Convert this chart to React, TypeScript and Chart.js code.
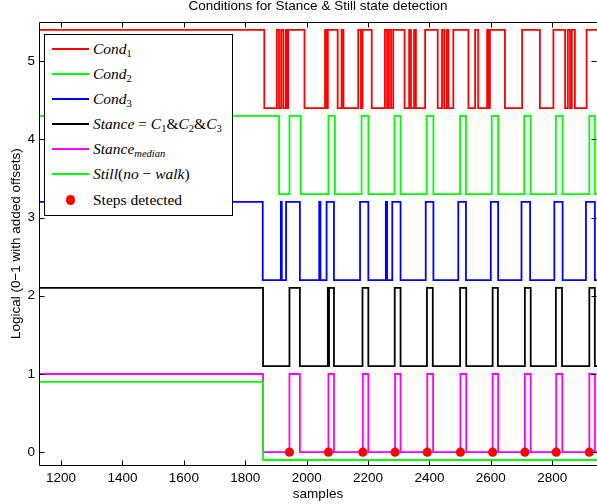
import React, { useEffect, useRef } from "react";
import { Chart, registerables } from "chart.js";

Chart.register(...registerables);

// ---- axis settings ----
const X_MIN = 1128;
const X_MAX = 2946;
const Y_MIN = -0.17;
const Y_MAX = 5.5;
const xTicks = [1200, 1400, 1600, 1800, 2000, 2200, 2400, 2600, 2800];
const yTicks = [0, 1, 2, 3, 4, 5];

const TITLE = "Conditions for Stance & Still state detection";
const X_LABEL = "samples";
const Y_LABEL = "Logical (0\u22121 with added offsets)";

// ---- signals: sample indices where each logical signal toggles ----
const cond1Start = 1;
const cond1Offset = 4.4;
const cond1Edges = [
  1862, 1903, 1910, 1917, 1924, 1932, 1935, 1940, 1993, 2060, 2063, 2069,
  2101, 2114, 2120, 2168, 2177, 2182, 2212, 2255, 2262, 2268, 2275, 2282,
  2319, 2334, 2340, 2350, 2356, 2386, 2427, 2441, 2448, 2456, 2462, 2478,
  2527, 2549, 2559, 2588, 2593, 2597, 2646, 2702, 2760, 2804, 2842, 2851,
  2858, 2864, 2874, 2912,
];

const cond2Start = 1;
const cond2Offset = 3.3;
const cond2Edges = [
  1910, 1944, 1981, 2071, 2092, 2179, 2201, 2286, 2306, 2391, 2413, 2500,
  2519, 2603, 2624, 2709, 2730, 2812, 2834, 2921, 2939,
];

const cond3Start = 1;
const cond3Offset = 2.2;
const cond3Edges = [
  1857, 1916, 1919, 1933, 1978, 2041, 2045, 2065, 2089, 2174, 2201, 2258,
  2262, 2279, 2306, 2388, 2413, 2494, 2519, 2600, 2624, 2700, 2728, 2807,
  2834, 2910, 2939,
];

const stanceStart = 1;
const stanceOffset = 1.1;
const stanceEdges = [
  1858, 1944, 1978, 2069, 2071, 2073, 2089, 2182, 2201, 2287, 2306, 2392,
  2411, 2500, 2520, 2606, 2623, 2711, 2730, 2812, 2832, 2921, 2939,
];

const medianStart = 1;
const medianOffset = 0;
const medianEdges = [
  1858, 1944, 1978, 2071, 2089, 2183, 2201, 2288, 2306, 2393, 2412, 2501,
  2520, 2606, 2624, 2711, 2730, 2813, 2833, 2921, 2939,
];

const stillStart = 1;
const stillOffset = -0.1;
const stillEdges = [1858];

const stepSamples = [1944, 2071, 2183, 2288, 2393, 2501, 2606, 2711, 2813, 2921];
const stepLevel = 0;

function buildSteps(edges: number[], start: number, offset: number) {
  let v = start;
  const pts = [{ x: X_MIN, y: v + offset }];
  for (const e of edges) {
    v = 1 - v;
    pts.push({ x: e, y: v + offset });
  }
  pts.push({ x: X_MAX, y: v + offset });
  return pts;
}

const FONT = "'Liberation Sans', Arial, Helvetica, sans-serif";

const framePlugin = {
  id: "matlabFrame",
  afterDatasetsDraw(chart: any) {
    const { ctx, chartArea, scales } = chart;
    const { left, right, top, bottom } = chartArea;
    const L = Math.round(left) + 0.5;
    const R = Math.round(right) + 0.5;
    const T = Math.round(top) + 0.5;
    const B = Math.floor(bottom) + 0.5;
    ctx.save();
    ctx.strokeStyle = "#000";
    ctx.lineWidth = 1;
    ctx.beginPath();
    ctx.rect(L, T, R - L, B - T);
    const len = 5;
    for (const t of scales.x.ticks) {
      const px = Math.round(scales.x.getPixelForValue(t.value)) + 0.5;
      ctx.moveTo(px, B);
      ctx.lineTo(px, B - len);
      ctx.moveTo(px, T);
      ctx.lineTo(px, T + len);
    }
    for (const t of scales.y.ticks) {
      const py = Math.round(scales.y.getPixelForValue(t.value)) + 0.5;
      ctx.moveTo(L, py);
      ctx.lineTo(L + len, py);
      ctx.moveTo(R - 1, py);
      ctx.lineTo(R - 1 - len, py);
    }
    ctx.stroke();
    ctx.restore();
  },
};

const subStyle: React.CSSProperties = {
  fontSize: "0.68em",
  verticalAlign: "baseline",
  position: "relative",
  top: "0.28em",
  fontStyle: "normal",
};

const legendRows = [
  { color: "#ff0000", marker: false, label: (<><i>Cond</i><sub style={subStyle}>1</sub></>) },
  { color: "#00ff00", marker: false, label: (<><i>Cond</i><sub style={subStyle}>2</sub></>) },
  { color: "#0000ff", marker: false, label: (<><i>Cond</i><sub style={subStyle}>3</sub></>) },
  {
    color: "#000000",
    marker: false,
    label: (
      <>
        <i>Stance</i>&nbsp;=&nbsp;<i>C</i><sub style={subStyle}>1</sub>&amp;<i>C</i>
        <sub style={subStyle}>2</sub>&amp;<i>C</i><sub style={subStyle}>3</sub>
      </>
    ),
  },
  {
    color: "#ff00ff",
    marker: false,
    label: (<><i>Stance</i><sub style={{ ...subStyle, fontStyle: "italic" }}>median</sub></>),
  },
  {
    color: "#00ff00",
    marker: false,
    label: (<><i>Still</i>(<i>no</i>&nbsp;&minus;&nbsp;<i>walk</i>)</>),
  },
  { color: "#ff0000", marker: true, label: <>Steps detected</> },
];
const legendRowCenters = [14, 39, 64, 89, 114, 139, 165];

export default function App() {
  const ref = useRef<HTMLCanvasElement>(null);

  useEffect(() => {
    document.body.style.margin = "0";
    const line = (label: string, edges: number[], start: number, offset: number, color: string, order: number) => ({
      label,
      data: buildSteps(edges, start, offset),
      borderColor: color,
      backgroundColor: color,
      borderWidth: 1.8,
      pointRadius: 0,
      stepped: true,
      fill: false,
      order,
    });
    const zeroPad = (s: any) => {
      s.paddingLeft = 0;
      s.paddingRight = 0;
      s.paddingTop = 0;
      s.paddingBottom = 0;
    };
    const chart = new Chart(ref.current as HTMLCanvasElement, {
      type: "line",
      data: {
        datasets: [
          line("Cond1", cond1Edges, cond1Start, cond1Offset, "#ff0000", 7),
          line("Cond2", cond2Edges, cond2Start, cond2Offset, "#00ff00", 6),
          line("Cond3", cond3Edges, cond3Start, cond3Offset, "#0000ff", 5),
          line("Stance", stanceEdges, stanceStart, stanceOffset, "#000000", 4),
          line("Stance median", medianEdges, medianStart, medianOffset, "#ff00ff", 3),
          line("Still", stillEdges, stillStart, stillOffset, "#00ff00", 2),
          {
            label: "Steps detected",
            data: stepSamples.map((s) => ({ x: s, y: stepLevel })),
            showLine: false,
            pointRadius: 4.6,
            pointBackgroundColor: "#ff0000",
            pointBorderColor: "#ff0000",
            pointBorderWidth: 0,
            order: 0,
          } as any,
        ],
      },
      options: {
        responsive: false,
        animation: false,
        events: [],
        layout: { autoPadding: false, padding: { left: 0, right: 0, top: 0, bottom: 0 } },
        plugins: {
          legend: { display: false },
          tooltip: { enabled: false },
          title: {
            display: true,
            text: TITLE,
            fullSize: false,
            color: "#000",
            font: { family: FONT, size: 13.5, weight: "normal", lineHeight: 1 },
            padding: { top: 0, bottom: 8.5 },
          },
        },
        scales: {
          x: {
            type: "linear",
            min: X_MIN,
            max: X_MAX,
            afterBuildTicks: (s: any) => {
              s.ticks = xTicks.map((v) => ({ value: v }));
            },
            ticks: {
              color: "#000",
              font: { family: FONT, size: 13.5 },
              padding: 5,
              maxRotation: 0,
              autoSkip: false,
              callback: (v: any) => String(v),
            },
            grid: { display: false, drawTicks: false },
            border: { display: false },
            title: {
              display: true,
              text: X_LABEL,
              color: "#000",
              font: { family: FONT, size: 13.5 },
              padding: { top: 0, bottom: 2 },
            },
            afterFit: (s: any) => {
              s.height = 38.5;
              zeroPad(s);
            },
          },
          y: {
            type: "linear",
            min: Y_MIN,
            max: Y_MAX,
            afterBuildTicks: (s: any) => {
              s.ticks = yTicks.map((v) => ({ value: v }));
            },
            ticks: {
              color: "#000",
              font: { family: FONT, size: 13.5 },
              padding: 4,
              callback: (v: any) => String(v),
            },
            grid: { display: false, drawTicks: false },
            border: { display: false },
            title: {
              display: true,
              text: Y_LABEL,
              color: "#000",
              font: { family: FONT, size: 13.5 },
              padding: { top: 8, bottom: 0 },
            },
            afterFit: (s: any) => {
              s.width = 39;
              zeroPad(s);
            },
          },
        },
      } as any,
      plugins: [framePlugin],
    });
    return () => chart.destroy();
  }, []);

  return (
    <div style={{ position: "fixed", left: 0, top: 0, width: 597, height: 504, background: "#fff", overflow: "hidden" }}>
      <canvas ref={ref} width={597} height={504} style={{ display: "block", width: 597, height: 504 }} />
      <div
        style={{
          position: "absolute",
          left: 44,
          top: 34,
          width: 189,
          height: 182,
          boxSizing: "border-box",
          border: "1px solid #000",
          background: "#fff",
          fontFamily: "'Liberation Serif', 'DejaVu Serif', 'Times New Roman', serif",
          fontSize: 15.5,
          color: "#000",
        }}
      >
        {legendRows.map((r, i) => (
          <div
            key={i}
            style={{
              position: "absolute",
              left: 0,
              top: legendRowCenters[i] - 10,
              height: 20,
              width: "100%",
            }}
          >
            {r.marker ? (
              <div
                style={{
                  position: "absolute",
                  left: 20.5,
                  top: 5.4,
                  width: 9.2,
                  height: 9.2,
                  borderRadius: "50%",
                  background: r.color,
                }}
              />
            ) : (
              <div
                style={{
                  position: "absolute",
                  left: 7,
                  top: 9.1,
                  width: 37,
                  height: 1.8,
                  background: r.color,
                }}
              />
            )}
            <div
              style={{
                position: "absolute",
                left: 48,
                top: 0,
                height: 20,
                lineHeight: "20px",
                whiteSpace: "nowrap",
              }}
            >
              {r.label}
            </div>
          </div>
        ))}
      </div>
    </div>
  );
}
